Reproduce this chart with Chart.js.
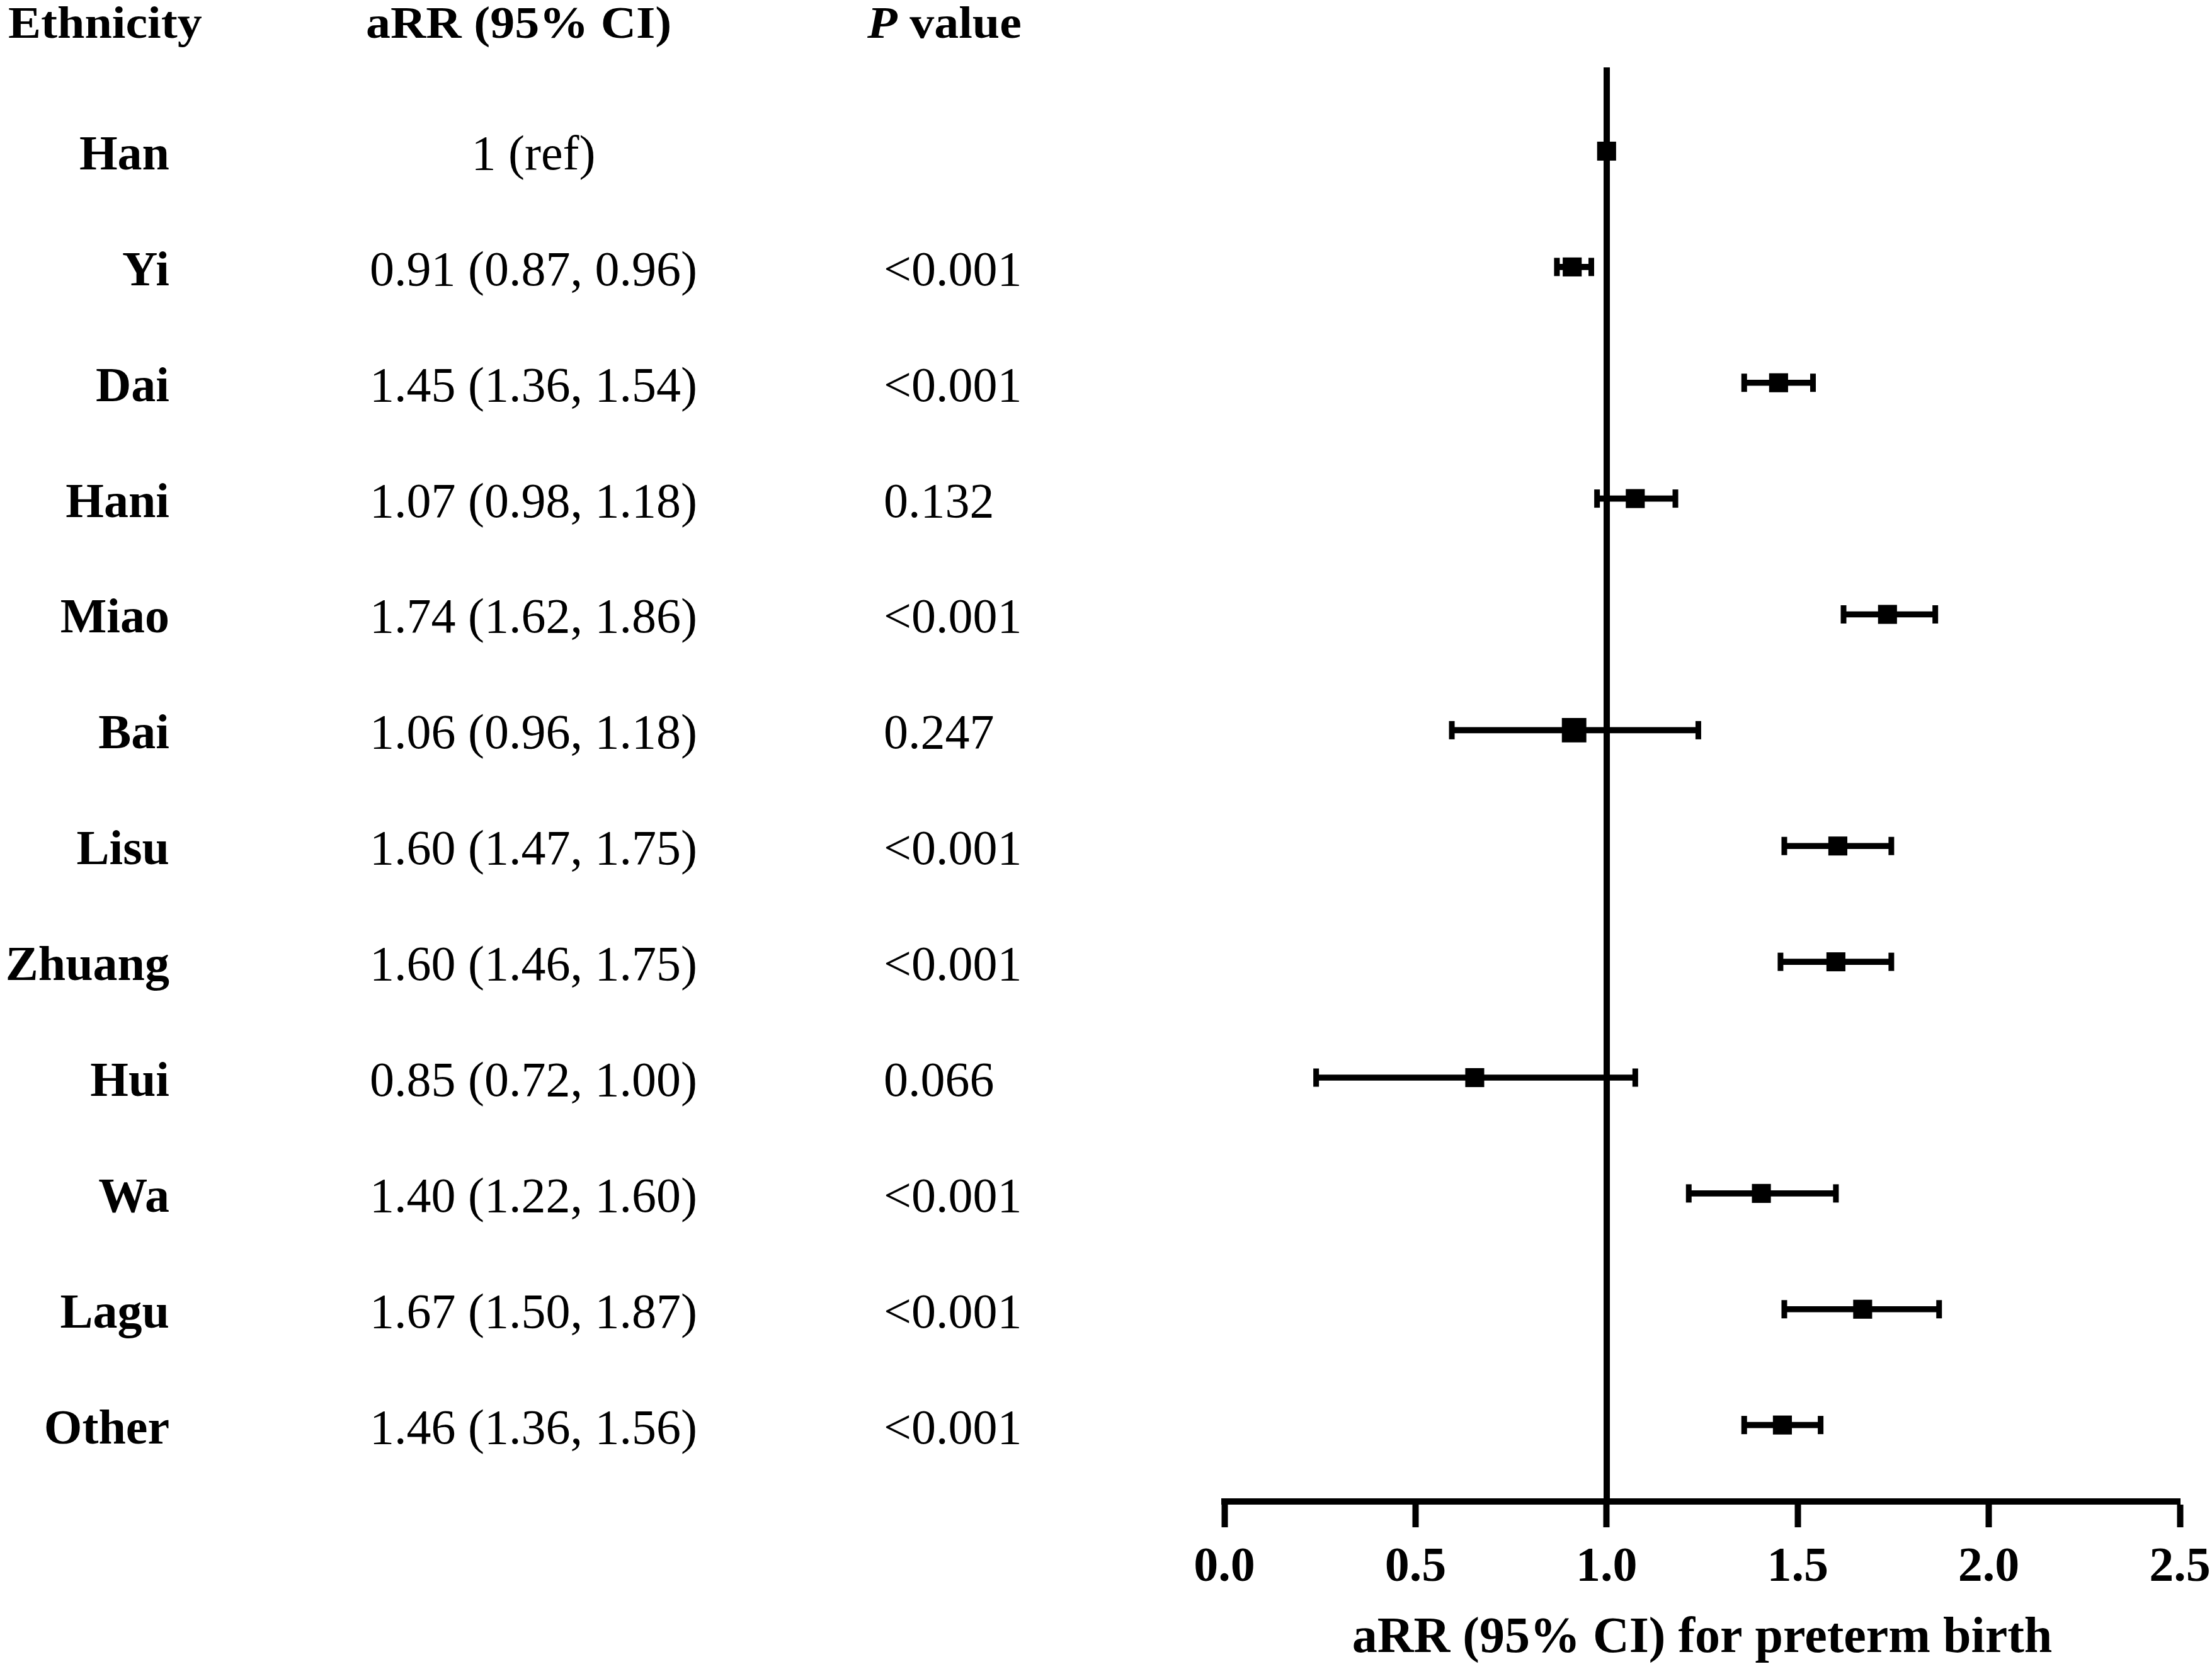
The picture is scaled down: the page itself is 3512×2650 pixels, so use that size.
<!DOCTYPE html>
<html lang="en">

<head>
    <meta charset="UTF-8">
    <title>aRR for preterm birth by ethnicity</title>
    <script src="https://cdn.jsdelivr.net/npm/chart.js@4.4.1/dist/chart.umd.min.js"></script>
    <style>
        html, body { margin: 0; padding: 0; background: #fff; }
        canvas { display: block; }
    </style>
</head>

<body>
    <canvas id="forestChart" width="3512" height="2650"></canvas>

    <script>
        // rows, top to bottom
        const ethnicities = ['Han', 'Yi', 'Dai', 'Hani', 'Miao', 'Bai', 'Lisu', 'Zhuang', 'Hui', 'Wa', 'Lagu', 'Other'];
        const rrLabels = ['1 (ref)', '0.91 (0.87, 0.96)', '1.45 (1.36, 1.54)', '1.07 (0.98, 1.18)', '1.74 (1.62, 1.86)',
            '1.06 (0.96, 1.18)', '1.60 (1.47, 1.75)', '1.60 (1.46, 1.75)', '0.85 (0.72, 1.00)', '1.40 (1.22, 1.60)',
            '1.67 (1.50, 1.87)', '1.46 (1.36, 1.56)'];
        const pLabels = ['', '<0.001', '<0.001', '0.132', '<0.001', '0.247', '<0.001', '<0.001', '0.066', '<0.001', '<0.001', '<0.001'];

        // values as plotted
        const estimates = [1.00, 0.91, 1.45, 1.075, 1.735, 0.915, 1.605, 1.60, 0.655, 1.405, 1.67, 1.46];
        const lowerCI = [1.00, 0.87, 1.36, 0.975, 1.62, 0.595, 1.465, 1.455, 0.24, 1.215, 1.465, 1.36];
        const upperCI = [1.00, 0.96, 1.54, 1.18, 1.86, 1.24, 1.745, 1.745, 1.075, 1.60, 1.87, 1.56];

        const bigMarkerRows = ['Bai'];
        const serif = "'Liberation Serif', 'Times New Roman', serif";

        function squashedText(ctx, text, x, y, font, sy) {
            ctx.save();
            ctx.font = font;
            ctx.translate(x, y);
            ctx.scale(1, sy);
            ctx.fillText(text, 0, 0);
            const w = ctx.measureText(text).width;
            ctx.restore();
            return w;
        }

        const tablePlugin = {
            id: 'tableText',
            afterDraw(chart) {
                const ctx = chart.ctx;
                const yScale = chart.scales.y;
                ctx.save();
                ctx.fillStyle = '#000';
                ctx.textBaseline = 'alphabetic';
                ctx.textAlign = 'left';

                // header row (slightly flatter than the body text)
                const hy = 60, sy = 0.92;
                squashedText(ctx, 'Ethnicity', 13, hy, `bold 78px ${serif}`, sy);
                squashedText(ctx, 'aRR (95% CI)', 581, hy, `bold 78px ${serif}`, sy);
                const pw = squashedText(ctx, 'P', 1377, hy, `italic bold 78px ${serif}`, sy);
                squashedText(ctx, ' value', 1377 + pw, hy, `bold 78px ${serif}`, sy);

                ethnicities.forEach((name, i) => {
                    const py = yScale.getPixelForValue(i) + 29;
                    ctx.font = `bold 78px ${serif}`;
                    ctx.textAlign = 'right';
                    ctx.fillText(name, 269, py);
                    ctx.font = `78px ${serif}`;
                    ctx.textAlign = 'center';
                    ctx.fillText(rrLabels[i], 847, py);
                    ctx.textAlign = 'left';
                    ctx.fillText(pLabels[i], 1403, py);
                });
                ctx.restore();
            }
        };

        const points = ethnicities.map((_, i) => ({ x: estimates[i], y: i }));
        const caps = [];
        ethnicities.forEach((_, i) => {
            caps.push({ x: lowerCI[i], y: i });
            caps.push({ x: upperCI[i], y: i });
        });
        const ranges = ethnicities.map((_, i) => ({ y: i, x: [lowerCI[i], upperCI[i]] }));

        new Chart(document.getElementById('forestChart'), {
            type: 'scatter',
            data: {
                datasets: [
                    {
                        type: 'scatter',
                        data: points,
                        pointStyle: 'rect',
                        pointRadius: c => bigMarkerRows.includes(ethnicities[c.dataIndex]) ? 27.5 : 21.3,
                        pointBackgroundColor: '#000',
                        pointBorderWidth: 0
                    },
                    {
                        type: 'scatter',
                        data: caps,
                        pointStyle: 'line',
                        pointRotation: 90,
                        pointRadius: 14.5,
                        pointBorderColor: '#000',
                        pointBorderWidth: 9
                    },
                    {
                        type: 'bar',
                        indexAxis: 'y',
                        data: ranges,
                        backgroundColor: '#000',
                        borderWidth: 0,
                        barThickness: 9
                    }
                ]
            },
            options: {
                responsive: false,
                animation: false,
                devicePixelRatio: 1,
                layout: { padding: { left: 1944, right: 51, top: 112, bottom: 0 } },
                plugins: { legend: { display: false }, tooltip: { enabled: false } },
                scales: {
                    x: {
                        type: 'linear',
                        position: 'bottom',
                        min: 0,
                        max: 2.5,
                        offset: false,
                        ticks: {
                            stepSize: 0.5,
                            callback: v => v.toFixed(1),
                            color: '#000',
                            padding: 18,
                            font: { family: serif, size: 78, weight: 'bold' }
                        },
                        grid: { display: true, drawOnChartArea: false, drawTicks: true, tickLength: 41, tickWidth: 10, tickColor: '#000' },
                        border: { display: true, color: '#000', width: 10 },
                        title: {
                            display: true,
                            text: 'aRR (95% CI) for preterm birth',
                            color: '#000',
                            padding: { top: 0, bottom: 0 },
                            font: { family: serif, size: 80, weight: 'bold' }
                        },
                        afterFit: s => {
                            s.height = 266;
                            s.paddingLeft = 0;
                            s.paddingRight = 0;
                        }
                    },
                    y: {
                        type: 'linear',
                        min: -0.696,
                        max: 11.66,
                        reverse: true,
                        offset: false,
                        position: { x: 1 },
                        ticks: { display: false },
                        grid: { display: false, drawTicks: false },
                        border: { display: true, color: '#000', width: 10 },
                        afterFit: s => {
                            s.paddingTop = 0;
                            s.paddingBottom = 0;
                        }
                    }
                }
            },
            plugins: [tablePlugin]
        });
    </script>
</body>

</html>
